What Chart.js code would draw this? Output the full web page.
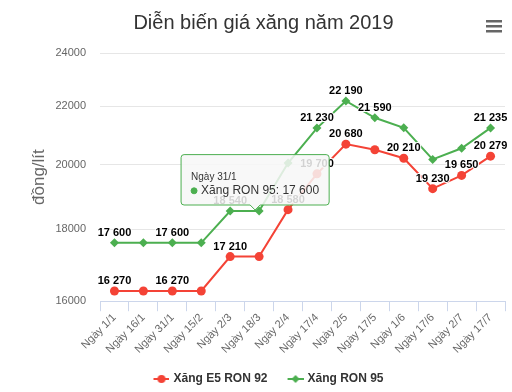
<!DOCTYPE html>
<html>
<head>
<meta charset="utf-8">
<script src="https://cdn.jsdelivr.net/npm/chart.js@4"></script>
<style>
  html, body { margin: 0; padding: 0; background: #fff; }
  #wrap { width: 512px; height: 392px; }
</style>
</head>
<body>
<div id="wrap"><canvas id="myChart" width="512" height="392"></canvas></div>
<script>
// dates of price adjustments
labels = ['Ngày 1/1', 'Ngày 16/1', 'Ngày 31/1', 'Ngày 15/2', 'Ngày 2/3', 'Ngày 18/3', 'Ngày 2/4',
  'Ngày 17/4', 'Ngày 2/5', 'Ngày 17/5', 'Ngày 1/6', 'Ngày 17/6', 'Ngày 2/7', 'Ngày 17/7'];
e5Prices = [16270, 16270, 16270, 16270, 17210, 17210, 18580, 19700, 20680, 20490, 20210, 19230, 19650, 20279];
ron95Prices = [17600, 17600, 17600, 17600, 18540, 18540, 20050, 21230, 22190, 21590, 21240, 20170, 20540, 21235];
yTicks = [16000, 18000, 20000, 22000, 24000];
// which points still have a value label (others hidden by overlap)
e5Shown = [0, 2, 4, 6, 7, 8, 10, 11, 12, 13];
ron95Shown = [0, 2, 4, 7, 8, 9, 13];

const RED = '#f44336';
const GREEN = '#4caf50';
const FONT = "'Liberation Sans', Arial, sans-serif";

function fmt(v) {
  return String(v).replace(/\B(?=(\d{3})+(?!\d))/g, ' ');
}

// legend symbol: short line with the marker in the middle, some blank room on the left
function legendIcon(color, shape) {
  const c = document.createElement('canvas');
  c.width = 28; c.height = 10;
  const g = c.getContext('2d');
  g.strokeStyle = color; g.fillStyle = color; g.lineWidth = 2;
  g.beginPath(); g.moveTo(12, 5); g.lineTo(28, 5); g.stroke();
  g.beginPath();
  if (shape == 'circle') {
    g.arc(20, 5, 4, 0, Math.PI * 2);
  } else {
    g.moveTo(20, 1); g.lineTo(24, 5); g.lineTo(20, 9); g.lineTo(16, 5); g.closePath();
  }
  g.fill();
  return c;
}
icons = [legendIcon(RED, 'circle'), legendIcon(GREEN, 'diamond')];

const valueLabels = {
  id: 'valueLabels',
  afterDatasetsDraw(chart) {
    const ctx = chart.ctx;
    const shown = [e5Shown, ron95Shown];
    ctx.save();
    ctx.font = 'bold 11px ' + FONT;
    ctx.textAlign = 'center';
    ctx.textBaseline = 'alphabetic';
    ctx.lineJoin = 'round';
    chart.data.datasets.forEach((ds, di) => {
      const meta = chart.getDatasetMeta(di);
      shown[di].forEach(i => {
        const pt = meta.data[i];
        const txt = fmt(ds.data[i]);
        ctx.strokeStyle = '#fff';
        ctx.lineWidth = 2;
        ctx.strokeText(txt, pt.x, pt.y - 7);
        ctx.fillStyle = '#000';
        ctx.fillText(txt, pt.x, pt.y - 7);
      });
    });
    ctx.restore();
  }
};

const menuIcon = {
  id: 'menuIcon',
  afterDraw(chart) {
    const ctx = chart.ctx;
    ctx.save();
    ctx.fillStyle = '#666';
    const x = chart.width - 26;
    [20, 25, 30].forEach(y => ctx.fillRect(x, y, 16, 2.5));
    ctx.restore();
  }
};

Chart.Tooltip.positioners.pinned = function (items) {
  if (!items.length) return false;
  const xs = this.chart.scales.x, ys = this.chart.scales.y;
  return { x: xs.getPixelForValue(5) - 4, y: ys.getPixelForValue(ron95Prices[5]) - 1 };
};

let ctx = document.getElementById('myChart');
const chart = new Chart(ctx, {
  type: 'line',
  data: {
    labels: labels,
    datasets: [{
      label: 'Xăng E5 RON 92',
      data: e5Prices,
      borderColor: RED,
      backgroundColor: RED,
      borderWidth: 2,
      pointStyle: 'circle',
      pointRadius: 4.5,
      pointBorderWidth: 0,
      tension: 0
    }, {
      label: 'Xăng RON 95',
      data: ron95Prices,
      borderColor: GREEN,
      backgroundColor: GREEN,
      borderWidth: 2,
      pointStyle: 'rectRot',
      pointRadius: 4.5,
      pointBorderWidth: 0,
      tension: 0
    }]
  },
  options: {
    responsive: false,
    animation: false,
    events: [],
    layout: { padding: { left: 22, right: 7, top: 0, bottom: -3 } },
    scales: {
      x: {
        offset: true,
        afterFit(scale) { scale.height += 7; },
        grid: { offset: true, drawOnChartArea: false, drawTicks: true, tickLength: 10, color: '#ccd6eb' },
        border: { display: true, color: '#ccd6eb' },
        ticks: { color: '#666', font: { family: FONT, size: 11 }, minRotation: 45, maxRotation: 45, padding: 0, autoSkip: false }
      },
      y: {
        type: 'logarithmic',
        min: 16000,
        max: 24000,
        afterBuildTicks(scale) { scale.ticks = yTicks.map(v => ({ value: v })); },
        afterFit(scale) { scale.width = 78; },
        grid: { color: '#e6e6e6', drawTicks: false },
        border: { display: false },
        ticks: { color: '#666', font: { family: FONT, size: 11 }, padding: 14, callback: v => String(v) },
        title: { display: true, text: 'đồng/lít', color: '#666', font: { family: FONT, size: 17 }, padding: { top: 7, bottom: 0 } }
      }
    },
    plugins: {
      title: {
        display: true,
        text: 'Diễn biến giá xăng năm 2019',
        color: '#333',
        font: { family: FONT, size: 20, weight: 'normal' },
        padding: { top: 11, bottom: 18 }
      },
      legend: {
        position: 'bottom',
        labels: {
          color: '#333',
          font: { family: FONT, size: 12, weight: 'bold' },
          usePointStyle: true,
          pointStyleWidth: 24,
          padding: 10,
          generateLabels(c) {
            return Chart.defaults.plugins.legend.labels.generateLabels(c).map((l, i) => Object.assign(l, { pointStyle: icons[i] }));
          }
        }
      },
      tooltip: {
        position: 'pinned',
        xAlign: 'center',
        yAlign: 'bottom',
        backgroundColor: 'rgba(247,247,247,0.85)',
        borderColor: GREEN,
        borderWidth: 1,
        cornerRadius: 3,
        caretSize: 5,
        caretPadding: 0,
        padding: { top: 17, bottom: 7, left: 10, right: 10 },
        titleColor: '#333',
        titleFont: { family: FONT, size: 10, weight: 'normal' },
        titleMarginBottom: 0,
        bodyColor: '#333',
        bodyFont: { family: FONT, size: 12 },
        usePointStyle: true,
        boxWidth: 6,
        boxHeight: 6,
        boxPadding: 2,
        callbacks: {
          label: item => item.dataset.label + ': ' + fmt(item.raw),
          labelColor: () => ({ borderColor: GREEN, backgroundColor: GREEN }),
          labelPointStyle: () => ({ pointStyle: 'circle', rotation: 0 })
        }
      }
    }
  },
  plugins: [valueLabels, menuIcon]
});

chart.tooltip.setActiveElements([{ datasetIndex: 1, index: 2 }], { x: 0, y: 0 });
chart.update();
</script>
</body>
</html>
